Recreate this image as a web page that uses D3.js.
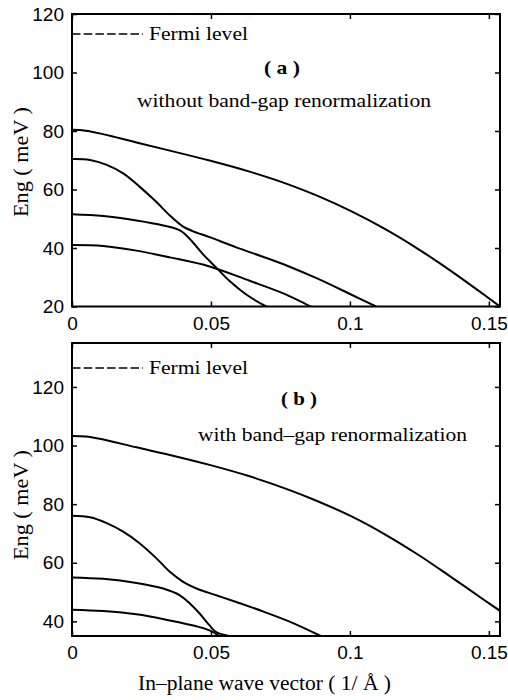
<!DOCTYPE html>
<html>
<head>
<meta charset="utf-8">
<script src="https://cdn.jsdelivr.net/npm/d3@7"></script>
<style>
  body { margin: 0; background: #fff; }
  svg { display: block; }
</style>
</head>
<body>
<script>
"use strict";

// subband dispersion, k in 1/A, E in meV
const bandA1 = [[0,80.4],[0.005,80.1],[0.0136,78.4],[0.0232,76.1],[0.0352,73.3],[0.0495,69.9],[0.0639,66.1],[0.0783,61.6],[0.0884,57.8],[0.1004,52.6],[0.1124,46.6],[0.1243,39.8],[0.1363,32.2],[0.1483,24.0],[0.154,20]];
const bandA2 = [[0,70.4],[0.0065,70.1],[0.0125,68.4],[0.0184,65.5],[0.0244,60.9],[0.0304,55.7],[0.0352,51.1],[0.04,47.3],[0.0436,45.7],[0.0495,43.7],[0.0591,40.2],[0.0687,37.0],[0.0783,33.6],[0.0884,29.5],[0.1004,24.1],[0.1094,20]];
const bandA3 = [[0,51.5],[0.0112,50.9],[0.0232,49.4],[0.0328,47.7],[0.0388,46.0],[0.0424,43.1],[0.0471,37.9],[0.0519,33.3],[0.0567,28.7],[0.0627,24.1],[0.0699,20]];
const bandA4 = [[0,41.0],[0.0112,40.7],[0.0232,39.1],[0.0352,36.8],[0.0495,33.7],[0.0639,28.8],[0.0765,24.3],[0.0848,20.5],[0.086,20]];

const bandB1 = [[0,103.3],[0.005,103.1],[0.01,102.3],[0.0232,99.4],[0.0352,96.8],[0.0495,93.4],[0.0639,89.5],[0.0783,84.8],[0.0884,81.0],[0.1004,75.9],[0.1124,69.8],[0.1243,62.9],[0.1363,55.2],[0.1483,47.3],[0.154,43.6]];
const bandB2 = [[0,76.0],[0.0065,75.5],[0.0125,73.5],[0.0184,70.6],[0.0244,66.6],[0.0304,61.5],[0.0352,56.9],[0.04,53.5],[0.0448,51.2],[0.0519,48.9],[0.0591,46.6],[0.0687,43.4],[0.0783,39.9],[0.0895,35]];
const bandB3 = [[0,55.0],[0.0112,54.5],[0.0232,53.1],[0.0328,51.2],[0.0388,48.9],[0.0424,46.1],[0.046,42.6],[0.0495,38.6],[0.0519,36.3],[0.0565,35]];
const bandB4 = [[0,44.0],[0.0112,43.5],[0.0232,42.4],[0.0352,40.3],[0.0448,38.3],[0.0495,36.9],[0.053,35]];

const xTicks = [0, 0.05, 0.1, 0.15];
const yTicksA = [20, 40, 60, 80, 100, 120];
const yTicksB = [40, 60, 80, 100, 120];
const xDomain = [0, 0.154];
const yDomainA = [20, 120];
const yDomainB = [35, 135];

const w = 508, h = 700;
const left = 72, right = 500;
const serif = "'Liberation Serif', 'Times New Roman', serif";
const sans = "'Liberation Sans', Arial, sans-serif";

const svg = d3.select("body").append("svg")
  .attr("width", w).attr("height", h);

const xScale = d3.scaleLinear().domain(xDomain).range([left, right]);

// stretched serif text, the original figure is wider than tall
function label(g, x, y, txt, len, size) {
  return g.append("text").attr("x", x).attr("y", y)
    .attr("font-family", serif).attr("font-size", size || 19)
    .attr("textLength", len).attr("lengthAdjust", "spacingAndGlyphs")
    .text(txt);
}

function panel(id, top, bottom, yDomain, yTicks, bands, tag, note, yLabelY) {
  const yScale = d3.scaleLinear().domain(yDomain).range([bottom, top]);
  const g = svg.append("g").attr("id", id);

  g.append("clipPath").attr("id", "clip-" + id)
    .append("rect").attr("x", left).attr("y", top)
    .attr("width", right - left).attr("height", bottom - top);

  const line = d3.line()
    .x(d => xScale(d[0]))
    .y(d => yScale(d[1]))
    .curve(d3.curveCatmullRom.alpha(0.5));

  g.append("g").attr("clip-path", "url(#clip-" + id + ")")
    .selectAll("path").data(bands).enter().append("path")
    .attr("d", line)
    .attr("fill", "none")
    .attr("stroke", "#000")
    .attr("stroke-width", 2);

  // axes, ticks pointing inward on all sides
  const xAxis = d3.axisBottom(xScale).tickValues(xTicks).tickSizeInner(-5).tickSizeOuter(0).tickPadding(10)
    .tickFormat(d => d === 0 ? "0" : String(d));
  const xTop = d3.axisTop(xScale).tickValues(xTicks).tickSizeInner(-5).tickSizeOuter(0).tickFormat("");
  const yAxis = d3.axisLeft(yScale).tickValues(yTicks).tickSizeInner(-5).tickSizeOuter(0).tickPadding(8);
  const yRight = d3.axisRight(yScale).tickValues(yTicks).tickSizeInner(-5).tickSizeOuter(0).tickFormat("");

  [
    g.append("g").attr("transform", "translate(0," + bottom + ")").call(xAxis),
    g.append("g").attr("transform", "translate(0," + top + ")").call(xTop),
    g.append("g").attr("transform", "translate(" + left + ",0)").call(yAxis),
    g.append("g").attr("transform", "translate(" + right + ",0)").call(yRight)
  ].forEach(a => {
    a.select(".domain").remove();
    a.selectAll(".tick line").attr("stroke", "#000").attr("stroke-width", 1.5);
    a.selectAll(".tick text").attr("font-family", sans).attr("font-size", 19).attr("fill", "#000");
  });

  g.append("rect")
    .attr("x", left).attr("y", top)
    .attr("width", right - left).attr("height", bottom - top)
    .attr("fill", "none").attr("stroke", "#000").attr("stroke-width", 2);

  // legend
  const ly = top + (id === "a" ? 20 : 25);
  g.append("line")
    .attr("x1", left).attr("x2", left + 71)
    .attr("y1", ly).attr("y2", ly)
    .attr("stroke", "#000").attr("stroke-width", 1.5)
    .attr("stroke-dasharray", "8.5,3.2");
  label(g, left + 77, ly + 6, "Fermi level", 99);

  g.append("text").attr("x", tag.x).attr("y", tag.y)
    .attr("text-anchor", "middle")
    .attr("font-family", serif).attr("font-size", 19).attr("font-weight", "bold")
    .attr("textLength", 36).attr("lengthAdjust", "spacingAndGlyphs")
    .text(tag.text);

  label(g, note.x, note.y, note.text, note.len);

  g.append("text")
    .attr("transform", "translate(28," + yLabelY + ") rotate(-90)")
    .attr("text-anchor", "middle")
    .attr("font-family", serif).attr("font-size", 20)
    .attr("textLength", 110).attr("lengthAdjust", "spacingAndGlyphs")
    .text("Eng ( meV )");
}

panel("a", 14, 306.5, yDomainA, yTicksA, [bandA1, bandA2, bandA3, bandA4],
  {text: "( a )", x: 282, y: 74},
  {text: "without band-gap renormalization", x: 137, y: 107, len: 294}, 162);

panel("b", 343, 636, yDomainB, yTicksB, [bandB1, bandB2, bandB3, bandB4],
  {text: "( b )", x: 299, y: 405},
  {text: "with band\u2013gap renormalization", x: 198, y: 441, len: 269}, 505);

label(svg, 138, 690, "In\u2013plane wave vector ( 1/ \u00C5 )", 253, 20);
</script>
</body>
</html>
